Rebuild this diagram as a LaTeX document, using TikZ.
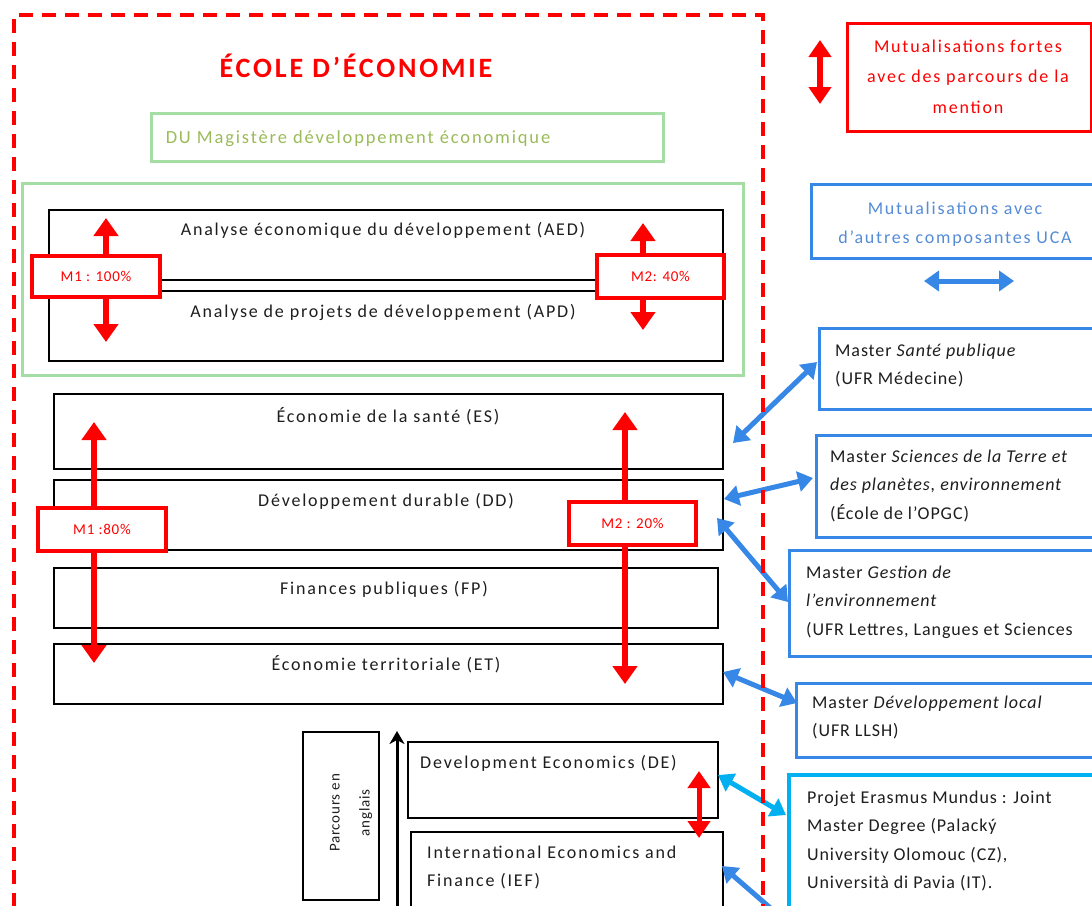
\documentclass[tikz,border=0pt]{standalone}
\usepackage{fontspec}
\setmainfont{Carlito}[LetterSpace=5]
\newfontfamily\wide{Carlito}[LetterSpace=10]
\usetikzlibrary{arrows.meta,calc}
\definecolor{rd}{RGB}{255,0,0}
\definecolor{gbox}{RGB}{165,222,165}
\definecolor{gtext}{RGB}{155,187,89}
\definecolor{bl}{RGB}{55,135,230}
\definecolor{bltext}{RGB}{85,140,215}
\definecolor{cy}{RGB}{0,176,240}
\definecolor{tx}{RGB}{30,30,30}
\newcommand\st{\rule{0pt}{14pt}}
\begin{document}
\begin{tikzpicture}[x=1pt,y=-1pt,
  box/.style={draw=black, line width=1.5pt, anchor=north west, inner sep=0pt},
  gbx/.style={draw=gbox, line width=3pt, anchor=north west, inner sep=0pt},
  bbox/.style={draw=bl, line width=3pt, anchor=north west, inner sep=0pt},
  rbox/.style={draw=rd, line width=3.2pt, fill=white, inner sep=0pt, text=rd, font=\fontsize{15}{18}\selectfont},
  txt/.style={inner sep=0pt, text=tx, font=\fontsize{18}{28.5}\selectfont},
  wtxt/.style={inner sep=0pt, text=tx, font=\wide\fontsize{18}{28.5}\selectfont},
  rarr/.style={draw=rd, line width=6pt, -{Triangle[width=24pt,length=18pt]}},
  rdarr/.style={draw=rd, line width=6pt, {Triangle[width=22pt,length=17pt]}-{Triangle[width=22pt,length=17pt]}},
  barr/.style={draw=bl, line width=5pt, {Triangle[width=20pt,length=15pt]}-{Triangle[width=20pt,length=15pt]}},
]
\useasboundingbox (0,0) rectangle (1092,905);
\clip (0,0) rectangle (1092,905);
\fill[white] (0,0) rectangle (1092,905);

% title
\node[inner sep=0pt, anchor=base, text=rd, font=\wide\fontsize{28}{32}\bfseries\selectfont] (title) at (356,77) {ÉCOLE D’ÉCONOMIE};

% DU magistere
\node[gbx, minimum width=512pt, minimum height=48pt] (du) at (150,112) {};
\node[wtxt, anchor=base, text=gtext, font=\wide\fontsize{18.5}{28}\selectfont] (dut) at (358,143) {DU Magistère développement économique};
\node[gbx, minimum width=721pt, minimum height=192pt] (gbig) at (21,182) {};

% AED / APD
\node[box, minimum width=674pt, minimum height=70pt] (aed) at (48,209) {};
\node[box, minimum width=674pt, minimum height=70pt] (apd) at (48,290) {};
\node[wtxt, anchor=base] (aedt) at (383,235) {Analyse économique du développement (AED)};
\node[wtxt, anchor=base] (apdt) at (383,317) {Analyse de projets de développement (APD)};

% ES DD FP ET
\node[box, minimum width=669pt, minimum height=75pt] (es) at (53,393) {};
\node[box, minimum width=669pt, minimum height=70pt] (dd) at (53,479) {};
\node[box, minimum width=664pt, minimum height=60pt] (fp) at (53,567) {};
\node[box, minimum width=669pt, minimum height=60pt] (et) at (53,643) {};
\node[wtxt, anchor=base] (est) at (388,422) {Économie de la santé (ES)};
\node[wtxt, anchor=base] (ddt) at (386,506) {Développement durable (DD)};
\node[wtxt, anchor=base] (fpt) at (384,594) {Finances publiques (FP)};
\node[wtxt, anchor=base] (ett) at (386,670) {Économie territoriale (ET)};

% DE IEF
\node[box, minimum width=310pt, minimum height=76pt] (de) at (407,741) {};
\node[box, minimum width=312pt, minimum height=100pt] (ief) at (410,831) {};
\node[wtxt, anchor=base west] (det) at (420,768) {Development Economics (DE)};
\node[wtxt, anchor=north west, align=left] (ieft) at (427,844) {\st International Economics and\\Finance (IEF)};

% vertical text box
\node[box, minimum width=76pt, minimum height=168pt] (vt) at (302,731) {};
\node[inner sep=0pt, text=tx, rotate=90, align=center, font=\fontsize{15}{30}\selectfont] (vtt) at (351,813) {Parcours en\\anglais};
\coordinate (vb) at (397,915);
\coordinate (vtop) at (397,731);
\draw[line width=3pt, -{Stealth[width=15pt,length=13pt,inset=4pt]}] (vb) -- (vtop);

% red M arrows
\node[rbox, minimum width=128pt, minimum height=41pt] (m1a) at (96,276.5) {M1 : 100\%};
\node[rbox, minimum width=127pt, minimum height=43pt] (m2a) at (660.5,276.5) {M2: 40\%};
\node[rbox, minimum width=128pt, minimum height=43pt] (m1b) at (102,529.5) {M1 :80\%};
\node[rbox, minimum width=127pt, minimum height=43pt] (m2b) at (632.5,523.5) {M2 : 20\%};
\coordinate (m1au) at (106,218);
\coordinate (m1ad) at (106,342);
\coordinate (m2au) at (643,223);
\coordinate (m2ad) at (643,330);
\coordinate (m1bu) at (94,422);
\coordinate (m1bd) at (94,663);
\coordinate (m2bu) at (625,412);
\coordinate (m2bd) at (625,684);
\draw[rarr] (m1a.north -| m1au) -- (m1au);
\draw[rarr] (m1a.south -| m1ad) -- (m1ad);
\draw[rarr] (m2a.north -| m2au) -- (m2au);
\draw[rarr] (m2a.south -| m2ad) -- (m2ad);
\draw[rarr] (m1b.north -| m1bu) -- (m1bu);
\draw[rarr] (m1b.south -| m1bd) -- (m1bd);
\draw[rarr] (m2b.north -| m2bu) -- (m2bu);
\draw[rarr] (m2b.south -| m2bd) -- (m2bd);
% redraw M boxes on top
\node[rbox, minimum width=128pt, minimum height=41pt] at (96,276.5) {M1 : 100\%};
\node[rbox, minimum width=127pt, minimum height=43pt] at (660.5,276.5) {M2: 40\%};
\node[rbox, minimum width=128pt, minimum height=43pt] at (102,529.5) {M1 :80\%};
\node[rbox, minimum width=127pt, minimum height=43pt] at (632.5,523.5) {M2 : 20\%};

% DE-IEF red arrow
\coordinate (deief1) at (699,771);
\coordinate (deief2) at (699,838);
\draw[rdarr, line width=5pt] (deief1) -- (deief2);

% legend
\node[draw=rd, line width=3pt, anchor=north west, inner sep=0pt, minimum width=244pt, minimum height=108pt] (lgr) at (846,22) {};
\node[inner sep=0pt, anchor=north, align=center, text=rd, font=\wide\fontsize{18}{30.5}\selectfont] (lgrt) at (968,38) {\st Mutualisations fortes\\avec des parcours de la\\mention};
\coordinate (lra) at (820,40);
\coordinate (lrb) at (820,104);
\draw[rdarr] (lra) -- (lrb);

\node[bbox, minimum width=282pt, minimum height=74pt] (lgb) at (810,183) {};
\node[inner sep=0pt, anchor=north, align=center, text=bltext, font=\wide\fontsize{18}{29}\selectfont] (lgbt) at (955,200) {\st Mutualisations avec\\d’autres composantes UCA};
\coordinate (lba) at (924,281);
\coordinate (lbb) at (1014,281);
\draw[barr] (lba) -- (lbb);

% right boxes
\node[bbox, minimum width=280pt, minimum height=81pt] (sante) at (818,327) {};
\node[txt, anchor=north west, align=left] (santet) at (835,342) {\st Master \textit{Santé publique}\\(UFR Médecine)};
\node[bbox, minimum width=280pt, minimum height=102pt] (sci) at (815,434) {};
\node[txt, anchor=north west, align=left] (scit) at (830,448) {\st Master \textit{Sciences de la Terre et}\\\textit{des planètes, environnement}\\(École de l’OPGC)};
\node[bbox, minimum width=310pt, minimum height=106pt] (gest) at (788,549) {};
\node[txt, anchor=north west, align=left] (gestt) at (806,564) {\st Master \textit{Gestion de}\\\textit{l’environnement}\\(UFR Lettres, Langues et Sciences};
\node[bbox, minimum width=300pt, minimum height=74pt] (dloc) at (795,682) {};
\node[txt, anchor=north west, align=left] (dloct) at (812,694) {\st Master \textit{Développement local}\\(UFR LLSH)};
\node[draw=cy, line width=3.5pt, anchor=north west, inner sep=0pt, minimum width=310pt, minimum height=140pt] (eras) at (787,773) {};
\node[txt, anchor=north west, align=left] (erast) at (807,789) {\st Projet Erasmus Mundus : Joint\\Master Degree (Palacký\\University Olomouc (CZ),\\Università di Pavia (IT).};

% blue arrows
\coordinate (a1) at (817,362);  \coordinate (a2) at (733,443);
\coordinate (b1) at (813,478);  \coordinate (b2) at (724,499);
\coordinate (c1) at (788,602);  \coordinate (c2) at (717,518);
\coordinate (d1) at (797,703);  \coordinate (d2) at (723,672);
\coordinate (e1) at (786,815);  \coordinate (e2) at (718,775);
\coordinate (f1) at (790,925);  \coordinate (f2) at (722,866);
\draw[barr] (a2) -- (a1);
\draw[barr] (b2) -- (b1);
\draw[barr] (c2) -- (c1);
\draw[barr] (d2) -- (d1);
\draw[barr, draw=cy] (e2) -- (e1);
\draw[barr] (f2) -- (f1);

% outer dashed frame
\coordinate (fr1) at (14,930);
\coordinate (fr2) at (14,15);
\coordinate (fr3) at (763,15);
\coordinate (fr4) at (763,930);
\draw[draw=rd, line width=4pt, dash pattern=on 14pt off 9pt] (fr1) -- (fr2) -- (fr3) -- (fr4);
\end{tikzpicture}
\end{document}
